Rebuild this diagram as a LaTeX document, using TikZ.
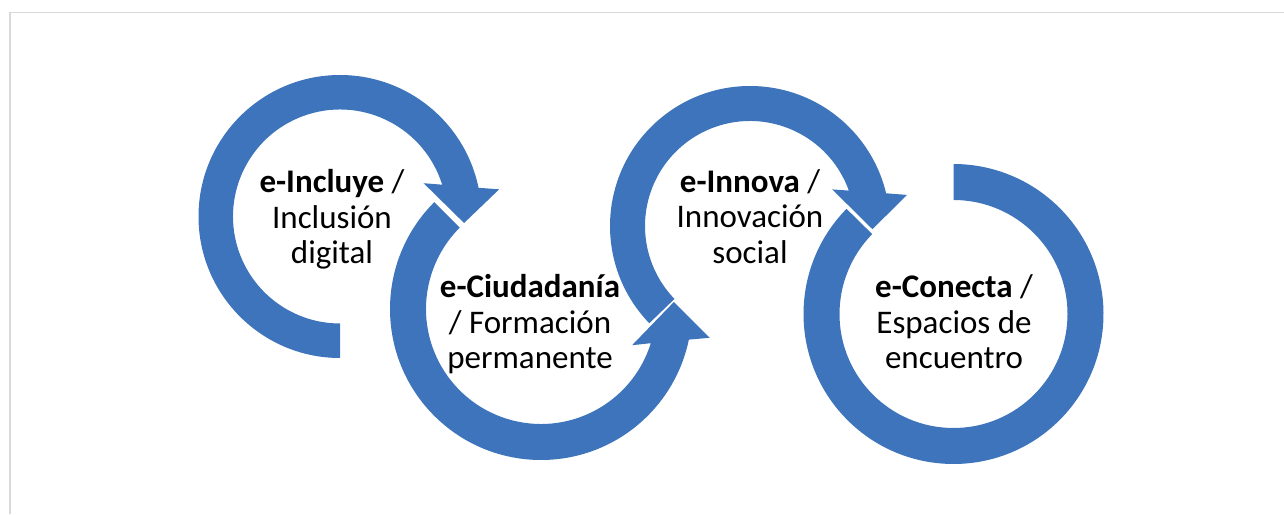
\documentclass[tikz,border=0pt]{standalone}
\usepackage{fontspec}
\setmainfont{Carlito}
\usetikzlibrary{calc}
\definecolor{ringblue}{RGB}{62,116,187}
\definecolor{framegray}{RGB}{217,217,217}
\begin{document}
\begin{tikzpicture}[x=1pt,y=1pt,
  ring/.style={fill=ringblue, draw=none},
  ringtext/.style={align=center, inner sep=0pt, text=black, font=\fontsize{33}{35.5}\selectfont},
  framel/.style={draw=framegray, line width=1.5pt}]
\useasboundingbox (0,0) rectangle (1284,514);
\draw[framel] (10,0) -- (10,501.7) -- (1290,501.7);

\coordinate (c1) at (340,297.5);
\coordinate (c2) at (541,205);
\coordinate (c3) at (750,288);
\coordinate (c4) at (953.5,200);

% ring 1 : clockwise, arrow at right
\fill[ring] ($(c1)+(-90:141.5)$) arc[start angle=-90, end angle=-348.3, radius=141.5]
  -- ($(c1)+(9.7:161.5)$) -- ($(c1)+(-3:124.25)$) -- ($(c1)+(21.7:90)$)
  -- ($(c1)+(17.3:107)$) arc[start angle=17.3, end angle=270, radius=107] -- cycle;

% ring 2 : counter-clockwise, arrow at right pointing up
\fill[ring] ($(c2)+(135:151)$) arc[start angle=135, end angle=348.3, radius=151]
  -- ($(c2)+(-9.7:171)$) -- ($(c2)+(3:133)$) -- ($(c2)+(-21.7:98)$)
  -- ($(c2)+(-17.3:115)$) arc[start angle=-17.3, end angle=-225, radius=115] -- cycle;

% ring 3 : clockwise, arrow at right
\fill[ring] ($(c3)+(224:140)$) arc[start angle=224, end angle=13.5, radius=140]
  -- ($(c3)+(11.2:160)$) -- ($(c3)+(-1.5:122.5)$) -- ($(c3)+(24:90)$)
  -- ($(c3)+(19.7:105)$) arc[start angle=19.7, end angle=224, radius=105] -- cycle;

% ring 4 : open ring
\fill[ring] ($(c4)+(135.5:150)$) arc[start angle=135.5, end angle=450, radius=150]
  -- ($(c4)+(90:114)$) arc[start angle=450, end angle=135.5, radius=114] -- cycle;

\node[ringtext] (t1) at (332,292.9) {\strut\textbf{e-Incluye} /\\\strut Inclusión\\\strut digital};
\node[ringtext] (t2) at (530,187.9) {\strut\textbf{e-Ciudadanía}\\\strut / Formación\\\strut permanente};
\node[ringtext] (t3) at (750,293.5) {\strut\textbf{e-Innova} /\\\strut Innovación\\\strut social};
\node[ringtext] (t4) at (954,187.9) {\strut\textbf{e-Conecta} /\\\strut Espacios de\\\strut encuentro};
\end{tikzpicture}
\end{document}
